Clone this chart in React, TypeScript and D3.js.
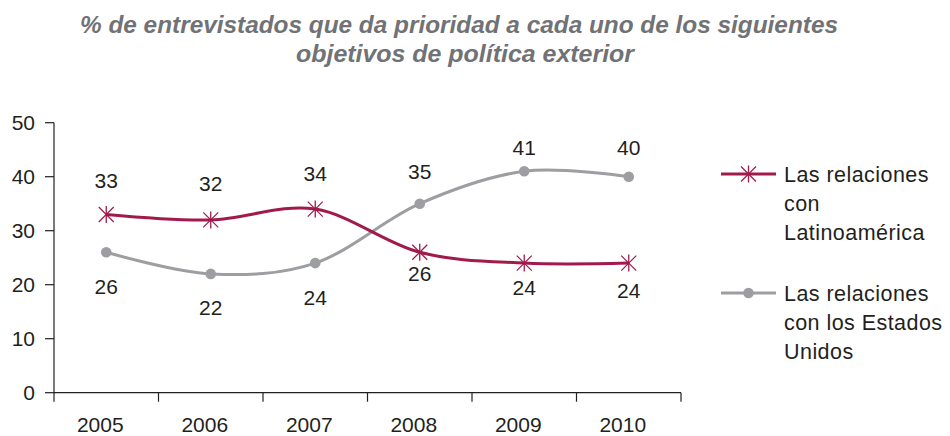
import React from "react";
import * as d3 from "d3";

const years = ["2005", "2006", "2007", "2008", "2009", "2010"];
const latinoamerica = [33, 32, 34, 26, 24, 24];
const estadosUnidos = [26, 22, 24, 35, 41, 40];
const yTicks = [0, 10, 20, 30, 40, 50];
const titleLines = [
  "% de entrevistados que da prioridad a cada uno de los siguientes",
  "objetivos de política exterior",
];
const legendLatam = ["Las relaciones", "con", "Latinoamérica"];
const legendUS = ["Las relaciones", "con los Estados", "Unidos"];

// label vertical offsets (layout)
const latamLabelDy = [-34, -36, -36, 21, 24, 27];
const usLabelDy = [34, 34, 34, -32, -24, -29];

const W = 950;
const H = 436;
const CRIMSON = "#a11a4c";
const GRAY = "#9d9ea1";
const TEXT = "#231f20";
const TITLE = "#717275";
const FONT = "'Liberation Sans', Arial, Helvetica, sans-serif";

export default function App() {
  const x = d3.scaleBand<string>().domain(years).range([54, 681]).padding(0);
  const y = d3.scaleLinear().domain([0, 50]).range([392.7, 122.7]);
  const cx = (i: number) => (x(years[i]) as number) + x.bandwidth() / 2;

  const line = d3
    .line<number>()
    .x((_, i) => cx(i))
    .y((d) => y(d))
    .curve(d3.curveCardinal.tension(0));

  const star = (px: number, py: number, r: number, key: string) => (
    <g key={key} stroke={CRIMSON} strokeWidth={1.3}>
      <line x1={px - r} y1={py - r} x2={px + r} y2={py + r} />
      <line x1={px - r} y1={py + r} x2={px + r} y2={py - r} />
      <line x1={px} y1={py - r - 1} x2={px} y2={py + r + 1} />
    </g>
  );

  const xTickPositions = years.map((yr) => x(yr) as number).concat([681]);

  return (
    <svg
      width={W}
      height={H}
      style={{ position: "absolute", left: 0, top: 0, display: "block" }}
      fontFamily={FONT}
    >
      <rect width={W} height={H} fill="#ffffff" />
      {/* title */}
      <text
        x={80}
        y={33}
        fontSize={24}
        fontWeight="bold"
        fontStyle="italic"
        fill={TITLE}
        textLength={758}
        lengthAdjust="spacingAndGlyphs"
      >
        {titleLines[0]}
      </text>
      <text
        x={296}
        y={62}
        fontSize={24}
        fontWeight="bold"
        fontStyle="italic"
        fill={TITLE}
        textLength={338}
        lengthAdjust="spacingAndGlyphs"
      >
        {titleLines[1]}
      </text>

      {/* y axis */}
      <line x1={54} y1={y(50)} x2={54} y2={y(0)} stroke={TEXT} strokeWidth={1.2} />
      {yTicks.map((t) => (
        <g key={"yt" + t}>
          <line x1={45} x2={54} y1={y(t)} y2={y(t)} stroke={TEXT} strokeWidth={1.2} />
          <text
            x={35}
            y={y(t)}
            dy="0.36em"
            textAnchor="end"
            fontSize={21}
            fill={TEXT}
          >
            {t}
          </text>
        </g>
      ))}

      {/* x axis */}
      <line x1={54} y1={y(0)} x2={681} y2={y(0)} stroke={TEXT} strokeWidth={1.2} />
      {xTickPositions.map((p, i) => (
        <line
          key={"xt" + i}
          x1={p}
          x2={p}
          y1={y(0)}
          y2={y(0) + 9}
          stroke={TEXT}
          strokeWidth={1.2}
        />
      ))}
      {years.map((yr, i) => (
        <text
          key={"xl" + yr}
          x={cx(i) - 6}
          y={432}
          textAnchor="middle"
          fontSize={21}
          fill={TEXT}
        >
          {yr}
        </text>
      ))}

      {/* lines */}
      <path d={line(estadosUnidos) || ""} fill="none" stroke={GRAY} strokeWidth={3} />
      <path d={line(latinoamerica) || ""} fill="none" stroke={CRIMSON} strokeWidth={3} />

      {/* markers */}
      {estadosUnidos.map((v, i) => (
        <circle key={"c" + i} cx={cx(i)} cy={y(v)} r={5.3} fill={GRAY} />
      ))}
      {latinoamerica.map((v, i) => star(cx(i), y(v), 7.5, "s" + i))}

      {/* data labels */}
      {latinoamerica.map((v, i) => (
        <text
          key={"ll" + i}
          x={cx(i)}
          y={y(v) + latamLabelDy[i]}
          dy="0.36em"
          textAnchor="middle"
          fontSize={21}
          fill={TEXT}
        >
          {v}
        </text>
      ))}
      {estadosUnidos.map((v, i) => (
        <text
          key={"ul" + i}
          x={cx(i)}
          y={y(v) + usLabelDy[i]}
          dy="0.36em"
          textAnchor="middle"
          fontSize={21}
          fill={TEXT}
        >
          {v}
        </text>
      ))}

      {/* legend */}
      <line x1={721} x2={776} y1={174} y2={174} stroke={CRIMSON} strokeWidth={3} />
      {star(748.5, 174, 7.5, "legstar")}
      {legendLatam.map((t, i) => (
        <text
          key={"lg1" + i}
          x={784}
          y={182 + i * 29}
          fontSize={21.5}
          letterSpacing={0.45}
          fill={TEXT}
        >
          {t}
        </text>
      ))}
      <line x1={721} x2={776} y1={293} y2={293} stroke={GRAY} strokeWidth={3} />
      <circle cx={748.5} cy={293} r={5.3} fill={GRAY} />
      {legendUS.map((t, i) => (
        <text
          key={"lg2" + i}
          x={784}
          y={301 + i * 29}
          fontSize={21.5}
          letterSpacing={0.45}
          fill={TEXT}
        >
          {t}
        </text>
      ))}
    </svg>
  );
}
